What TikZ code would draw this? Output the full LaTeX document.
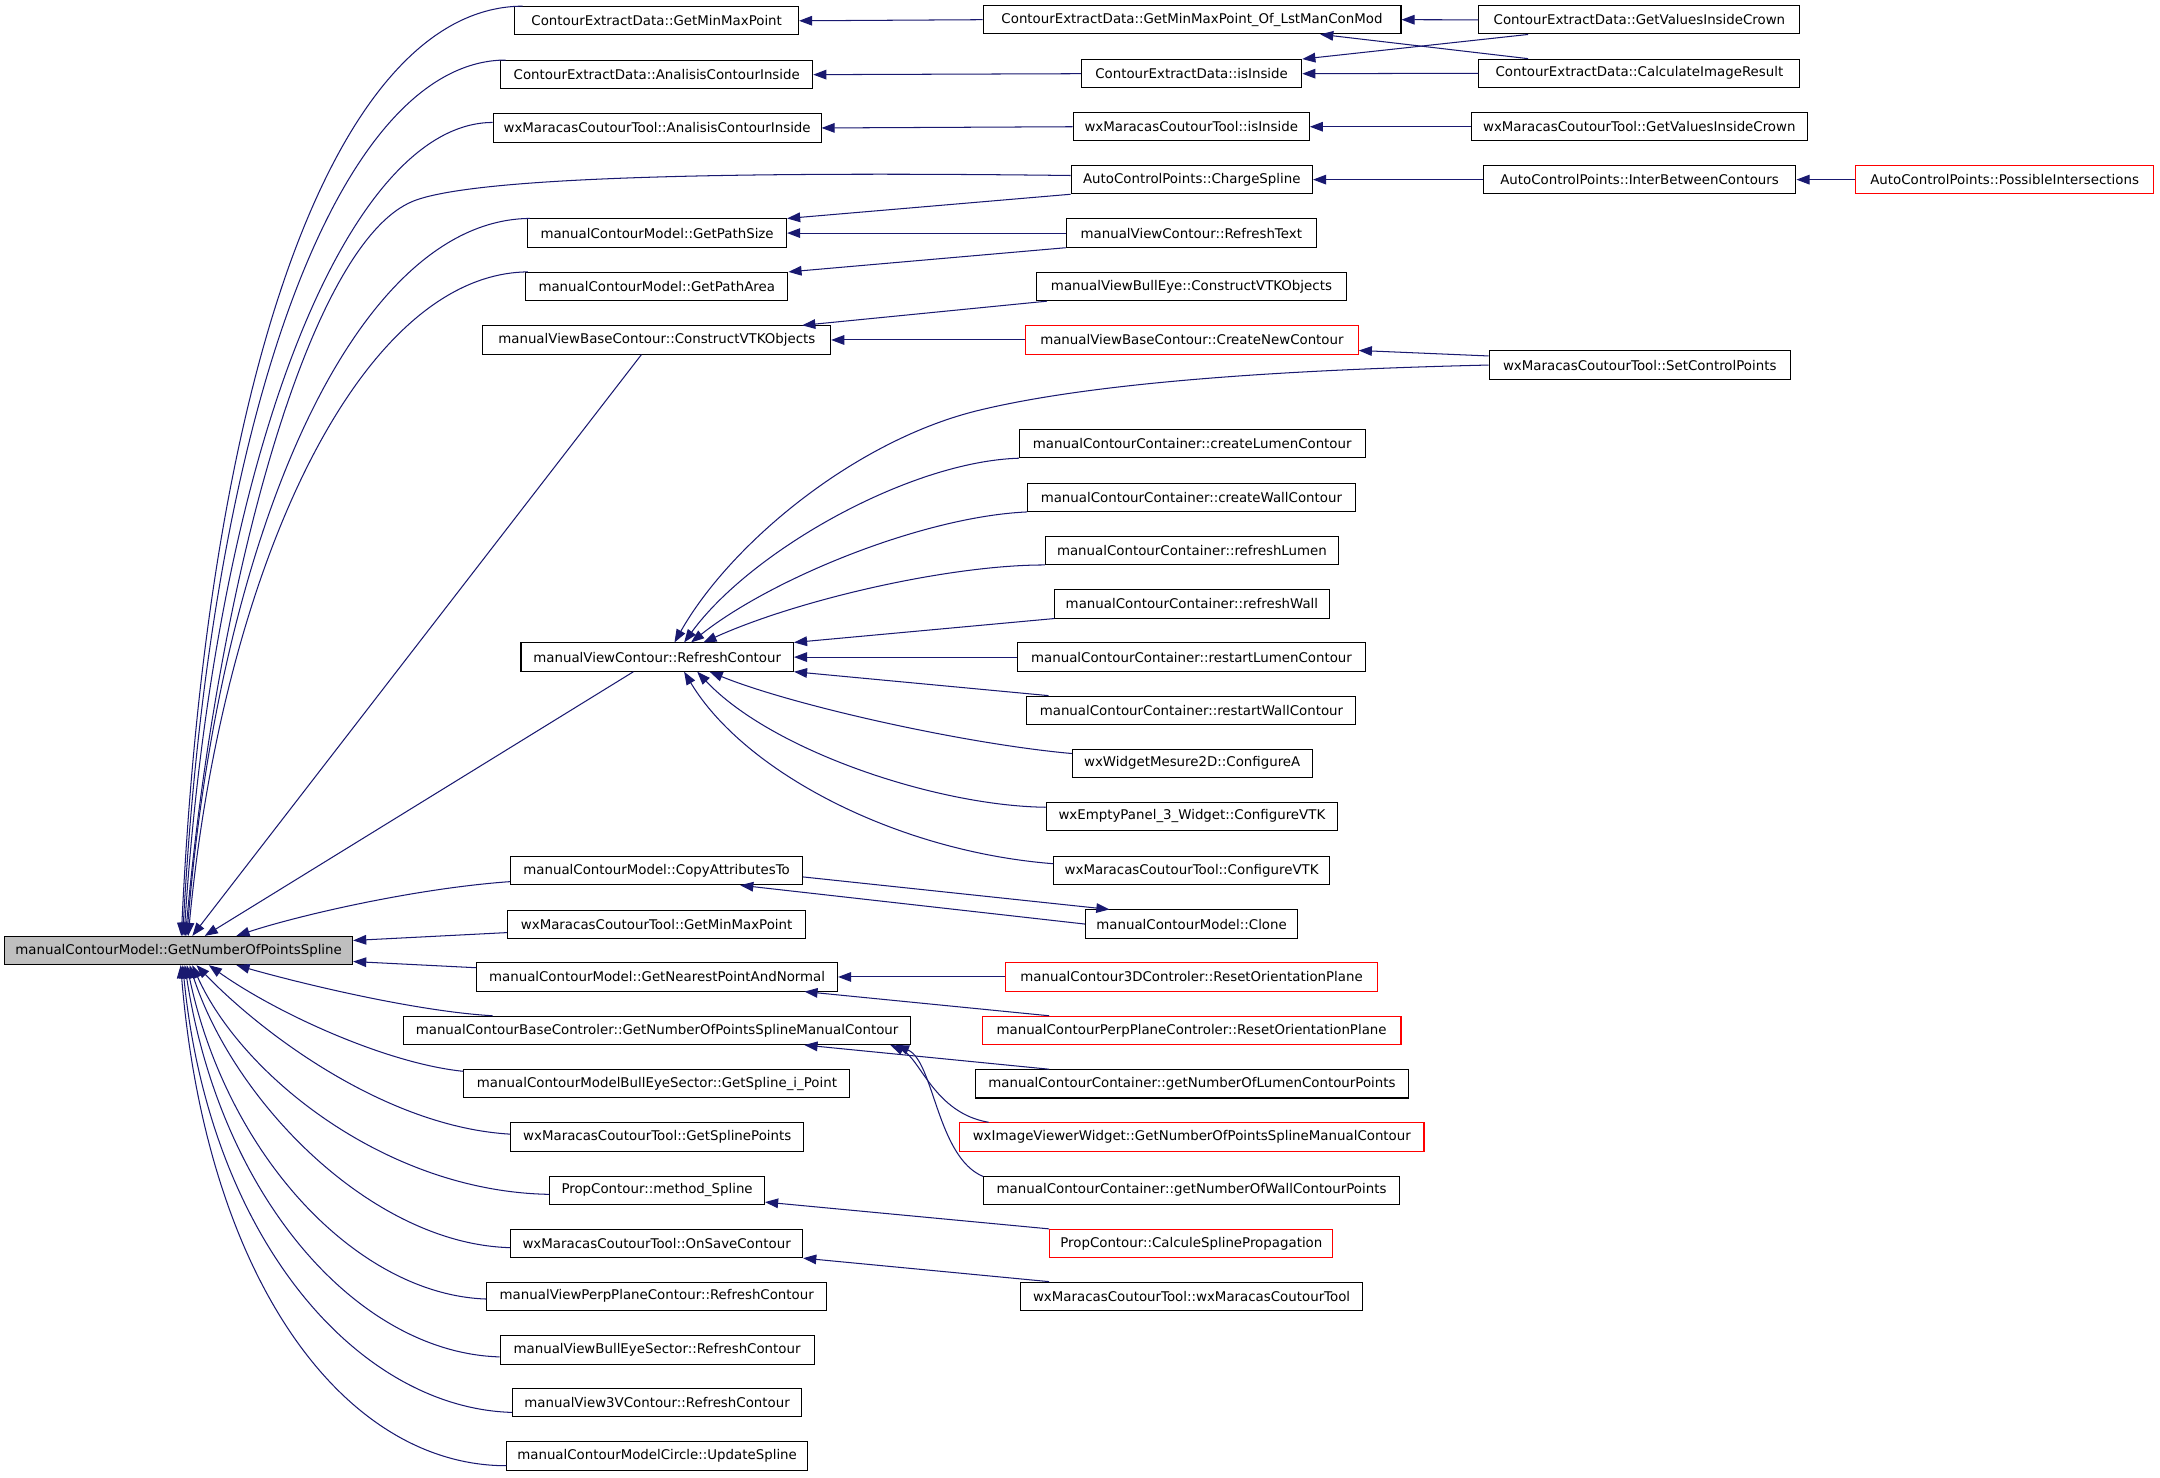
\documentclass[tikz,border=0pt]{standalone}
\usepackage{fontspec}
\setmainfont{DejaVu Sans}
\usetikzlibrary{arrows.meta}
\definecolor{edgeblue}{HTML}{191970}
\definecolor{maingray}{HTML}{BFBFBF}
\newcommand\fsz{\fontsize{9.7pt}{11pt}\selectfont}
\newcommand\mknode[6]{\node[#6, minimum width={(#3-#2)*1pt}] (#1) at ({(#2+#3)/2},#4) {#5};}
\tikzset{
  box/.style={draw=black, line width=0.75pt, minimum height=20.5pt, inner xsep=0pt, inner ysep=0pt, font=\fsz, text=black, fill=white},
  redbox/.style={box, draw=red},
  mainbox/.style={box, fill=maingray},
  ed/.style={draw=edgeblue, line width=0.75pt, arrows={Triangle[length=9.5pt,width=7pt,fill=edgeblue]-}},
}
\begin{document}
\begin{tikzpicture}[x=1pt,y=-1pt]
\fill[white] (0,0) rectangle (1568,1072.2);
\useasboundingbox (0,0) rectangle (1568,1072.2);
% main
\mknode{main}{3.3}{256}{690}{manualContourModel::GetNumberOfPointsSpline}{mainbox}
% column 2
\mknode{n1}{373.7}{579.7}{15.1}{ContourExtractData::GetMinMaxPoint}{box}
\mknode{n2}{363.5}{590}{54.2}{ContourExtractData::AnalisisContourInside}{box}
\mknode{n3}{358}{596}{92.9}{wxMaracasCoutourTool::AnalisisContourInside}{box}
\mknode{n4}{383}{571}{169.2}{manualContourModel::GetPathSize}{box}
\mknode{n5}{381.5}{572}{208}{manualContourModel::GetPathArea}{box}
\mknode{n6}{350.6}{603}{246.8}{manualViewBaseContour::ConstructVTKObjects}{box}
\mknode{n7}{378.2}{576}{477}{manualViewContour::RefreshContour}{box}
\mknode{n8}{370.6}{582.7}{632}{manualContourModel::CopyAttributesTo}{box}
\mknode{n9}{368.3}{585}{671}{wxMaracasCoutourTool::GetMinMaxPoint}{box}
\mknode{n10}{346}{608}{709.2}{manualContourModel::GetNearestPointAndNormal}{box}
\mknode{n11}{293}{661}{748}{manualContourBaseControler::GetNumberOfPointsSplineManualContour}{box}
\mknode{n12}{336.8}{617}{786.7}{manualContourModelBullEyeSector::GetSpline\_i\_Point}{box}
\mknode{n13}{370.6}{583.6}{825.3}{wxMaracasCoutourTool::GetSplinePoints}{box}
\mknode{n14}{399}{555}{864}{PropContour::method\_Spline}{box}
\mknode{n15}{370.6}{582.7}{902.7}{wxMaracasCoutourTool::OnSaveContour}{box}
\mknode{n16}{353.5}{600}{941}{manualViewPerpPlaneContour::RefreshContour}{box}
\mknode{n17}{363}{591}{980}{manualViewBullEyeSector::RefreshContour}{box}
\mknode{n18}{372}{582}{1018.3}{manualView3VContour::RefreshContour}{box}
\mknode{n19}{368}{586}{1057}{manualContourModelCircle::UpdateSpline}{box}
% column 3
\mknode{m1}{713.6}{1017}{14.3}{ContourExtractData::GetMinMaxPoint\_Of\_LstManConMod}{box}
\mknode{m2}{785}{945}{53.5}{ContourExtractData::isInside}{box}
\mknode{m3}{779}{950.5}{92}{wxMaracasCoutourTool::isInside}{box}
\mknode{m4}{777.5}{952.8}{130.4}{AutoControlPoints::ChargeSpline}{box}
\mknode{m5}{774}{955.6}{169.2}{manualViewContour::RefreshText}{box}
\mknode{m6}{752.4}{977.4}{208}{manualViewBullEye::ConstructVTKObjects}{box}
\mknode{m7}{744.5}{986}{246.8}{manualViewBaseContour::CreateNewContour}{redbox}
\mknode{m8}{740}{991}{322}{manualContourContainer::createLumenContour}{box}
\mknode{m9}{746}{983.7}{361}{manualContourContainer::createWallContour}{box}
\mknode{m10}{758.8}{971.7}{399.5}{manualContourContainer::refreshLumen}{box}
\mknode{m11}{765.7}{964.8}{438.4}{manualContourContainer::refreshWall}{box}
\mknode{m12}{738.9}{991}{477}{manualContourContainer::restartLumenContour}{box}
\mknode{m13}{745.5}{984.3}{515.6}{manualContourContainer::restartWallContour}{box}
\mknode{m14}{778.4}{952.5}{554}{wxWidgetMesure2D::ConfigureA}{box}
\mknode{m15}{759.4}{971}{592.7}{wxEmptyPanel\_3\_Widget::ConfigureVTK}{box}
\mknode{m16}{765}{965}{632}{wxMaracasCoutourTool::ConfigureVTK}{box}
\mknode{m17}{788}{942}{670.8}{manualContourModel::Clone}{box}
\mknode{m18}{730}{1000}{709.2}{manualContour3DControler::ResetOrientationPlane}{redbox}
\mknode{m19}{713}{1017}{748}{manualContourPerpPlaneControler::ResetOrientationPlane}{redbox}
\mknode{m20}{708}{1022.5}{786.8}{manualContourContainer::getNumberOfLumenContourPoints}{box}
\mknode{m21}{696.6}{1033.7}{825.3}{wxImageViewerWidget::GetNumberOfPointsSplineManualContour}{redbox}
\mknode{m22}{714}{1016}{864}{manualContourContainer::getNumberOfWallContourPoints}{box}
\mknode{m23}{762}{967.6}{902.7}{PropContour::CalculeSplinePropagation}{redbox}
\mknode{m24}{741}{989}{941}{wxMaracasCoutourTool::wxMaracasCoutourTool}{box}
% column 4
\mknode{k1}{1073.6}{1306.6}{14.4}{ContourExtractData::GetValuesInsideCrown}{box}
\mknode{k2}{1073.6}{1306.6}{53.2}{ContourExtractData::CalculateImageResult}{box}
\mknode{k3}{1068}{1312}{92}{wxMaracasCoutourTool::GetValuesInsideCrown}{box}
\mknode{k4}{1076.7}{1303.7}{130.4}{AutoControlPoints::InterBetweenContours}{box}
\mknode{k5}{1081}{1299.6}{265}{wxMaracasCoutourTool::SetControlPoints}{box}
% column 5
\mknode{p1}{1346.8}{1563.6}{130.4}{AutoControlPoints::PossibleIntersections}{redbox}

% ---- edges into main (upper) ----
\draw[ed] ([xshift=128.7pt]main.north west) .. controls (152,250) and (250,5) .. ([xshift=6pt]n1.north west);
\draw[ed] ([xshift=129.7pt]main.north west) .. controls (154,285) and (250,44) .. ([xshift=4pt]n2.north west);
\draw[ed] ([xshift=130.7pt]main.north west) .. controls (157,320) and (255,89) .. ([yshift=4pt]n3.west);
\draw[ed] ([xshift=131.7pt]main.north west) .. controls (158,420) and (225,176) .. (300,146) .. controls (340,130) and (500,124) .. ([yshift=3pt]m4.west);
\draw[ed] ([xshift=132.7pt]main.north west) .. controls (160,380) and (260,159.5) .. ([xshift=2pt]n4.north west);
\draw[ed] ([xshift=133.7pt]main.north west) .. controls (162,410) and (262,198.5) .. ([xshift=2pt]n5.north west);
\draw[ed] ([xshift=136.7pt]main.north west) -- ([xshift=115.4pt]n6.south west);
\draw[ed] ([xshift=145.7pt]main.north west) -- ([xshift=82pt]n7.south west);
\draw[ed] ([xshift=168.7pt]main.north west) .. controls (215,665) and (300,645) .. ([yshift=-8pt]n8.west);
\draw[ed] ([yshift=7.3pt]main.east) -- ([yshift=-6pt]n9.west);
\draw[ed] ([yshift=-8pt]main.east) -- ([yshift=6.7pt]n10.west);
% ---- edges into main (lower) ----
\draw[ed] ([xshift=168.7pt]main.south west) .. controls (215,713) and (300,734) .. ([xshift=65pt]n11.north west);
\draw[ed] ([xshift=148.7pt]main.south west) .. controls (200,735) and (280,772) .. ([yshift=9pt]n12.west);
\draw[ed] ([xshift=139.7pt]main.south west) .. controls (190,750) and (280,818) .. ([yshift=2pt]n13.west);
\draw[ed] ([xshift=136.7pt]main.south west) .. controls (175,780) and (280,865) .. ([yshift=-3pt]n14.west);
\draw[ed] ([xshift=134.7pt]main.south west) .. controls (170,800) and (270,903) .. ([yshift=-3pt]n15.west);
\draw[ed] ([xshift=132.7pt]main.south west) .. controls (165,840) and (260,940) .. ([yshift=-2pt]n16.west);
\draw[ed] ([xshift=131.2pt]main.south west) .. controls (160,870) and (260,982) .. ([yshift=-5pt]n17.west);
\draw[ed] ([xshift=129.7pt]main.south west) .. controls (152,900) and (260,1022) .. ([yshift=-7pt]n18.west);
\draw[ed] ([xshift=128.2pt]main.south west) .. controls (150,930) and (250,1064) .. ([yshift=-7pt]n19.west);

% ---- column 2 <- column 3 ----
\draw[ed] (n1.east) -- (m1.west);
\draw[ed] (n2.east) -- (m2.west);
\draw[ed] (n3.east) -- (m3.west);
\draw[ed] (n4.north east) -- (m4.south west);
\draw[ed] (n4.east) -- (m5.west);
\draw[ed] (n5.north east) -- (m5.south west);
\draw[ed] ([xshift=-21pt]n6.north east) -- ([xshift=8pt]m6.south west);
\draw[ed] (n6.east) -- (m7.west);
% RefreshContour fan
\draw[ed] ([xshift=111.8pt]n7.north west) .. controls (530,395) and (620,320) .. (710,298) .. controls (800,276) and (950,268) .. (k5.west);
\draw[ed] ([xshift=118.8pt]n7.north west) .. controls (545,400) and (660,335) .. (m8.south west);
\draw[ed] ([xshift=123.8pt]n7.north west) .. controls (560,420) and (670,375) .. (m9.south west);
\draw[ed] ([xshift=132.8pt]n7.north west) .. controls (580,435) and (690,410) .. (m10.south west);
\draw[ed] (n7.north east) -- (m11.south west);
\draw[ed] (n7.east) -- (m12.west);
\draw[ed] (n7.south east) -- ([xshift=16pt]m13.north west);
\draw[ed] ([xshift=137.3pt]n7.south west) .. controls (575,512) and (700,540) .. ([yshift=7pt]m14.west);
\draw[ed] ([xshift=128.3pt]n7.south west) .. controls (560,545) and (680,585) .. ([yshift=6.7pt]m15.west);
\draw[ed] ([xshift=118.8pt]n7.south west) .. controls (540,560) and (650,618) .. ([yshift=5pt]m16.west);
% CopyAttributesTo / Clone
\draw[ed] ([xshift=-45.7pt]n8.south east) -- (m17.west);
\draw[ed] ([xshift=17.7pt]m17.north west) -- ([yshift=-4.6pt]n8.east);
% GetNearestPointAndNormal
\draw[ed] (n10.east) -- (m18.west);
\draw[ed] ([xshift=-24.4pt]n10.south east) -- ([xshift=49pt]m19.north west);
% BaseControler
\draw[ed] ([xshift=-77.4pt]n11.south east) -- ([xshift=54pt]m20.north west);
\draw[ed] ([xshift=-15pt]n11.south east) .. controls (668,768) and (678,808) .. ([xshift=21.4pt]m21.north west);
\draw[ed] ([xshift=-11pt]n11.south east) .. controls (678,770) and (680,840) .. ([yshift=10pt]m22.west);
% method_Spline, OnSaveContour
\draw[ed] ([yshift=2pt]n14.south east) -- (m23.north west);
\draw[ed] (n15.south east) -- ([xshift=21pt]m24.north west);

% ---- column 3 <- column 4 ----
\draw[ed] (m1.east) -- (k1.west);
\draw[ed] ([xshift=-59pt]m1.south east) -- ([xshift=36pt]k2.north west);
\draw[ed] (m2.north east) -- ([xshift=36pt]k1.south west);
\draw[ed] (m2.east) -- (k2.west);
\draw[ed] (m3.east) -- (k3.west);
\draw[ed] (m4.east) -- (k4.west);
\draw[ed] ([yshift=3pt]m7.south east) -- ([yshift=6.6pt]k5.west);
\draw[ed] (k4.east) -- (p1.west);
\end{tikzpicture}
\end{document}
